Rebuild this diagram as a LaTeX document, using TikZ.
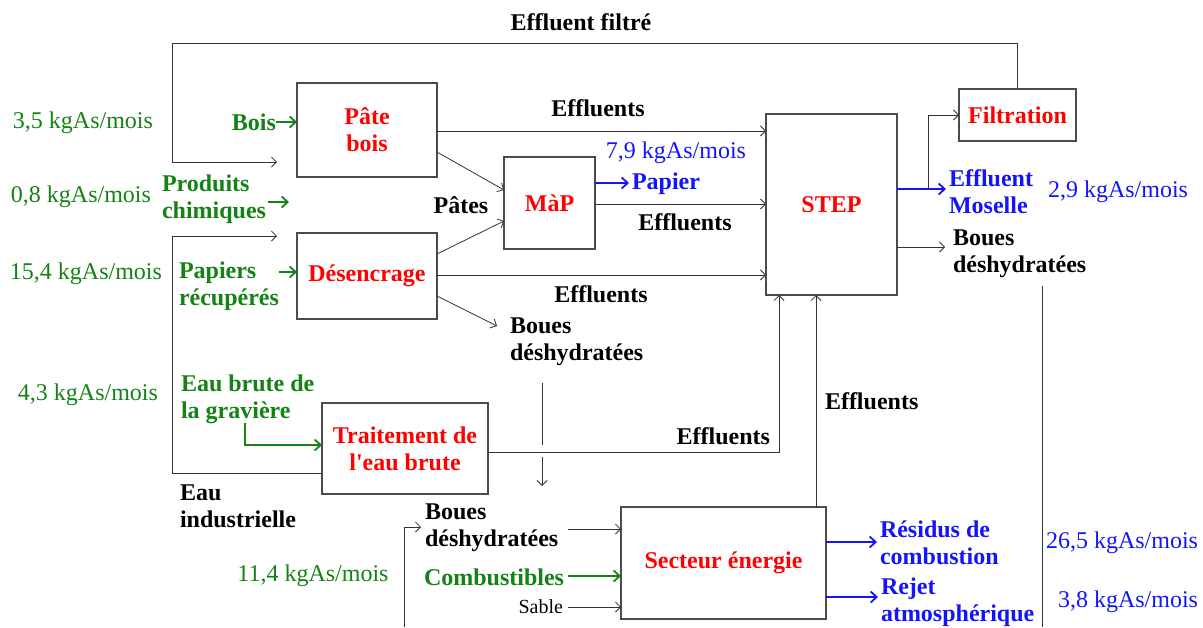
\documentclass[tikz,border=0pt]{standalone}
\usepackage{fontspec}
\setmainfont{Liberation Serif}
\usetikzlibrary{arrows.meta}
\definecolor{grn}{RGB}{20,130,20}
\definecolor{blu}{RGB}{20,20,250}
\definecolor{rd}{RGB}{255,0,0}
\newcommand\bigf{\fontsize{24}{27}\selectfont}
\begin{document}
\begin{tikzpicture}[x=1pt,y=-1pt,
  every node/.style={inner sep=0pt, outer sep=0pt},
  box/.style={draw=black!70, line width=1.2pt, text=rd, font=\bigf\bfseries, align=center},
  ln/.style={draw=black!80, line width=0.8pt},
  ar/.style={ln, -{Straight Barb[length=5pt,width=10pt]}},
  gar/.style={draw=grn, line width=1.8pt, -{Straight Barb[length=6pt,width=11pt]}},
  bar/.style={draw=blu, line width=1.8pt, -{Straight Barb[length=6pt,width=11pt]}},
  lbl/.style={font=\bigf\bfseries, text=black, align=left},
  glbl/.style={font=\bigf\bfseries, text=grn, align=left},
  blbl/.style={font=\bigf\bfseries, text=blu, align=left},
  gamt/.style={font=\bigf, text=grn},
  bamt/.style={font=\bigf, text=blu},
]
\useasboundingbox (0,0) rectangle (1203,627);

% boxes
\node[box, minimum width=140pt, minimum height=94pt] (pate) at (367,130) {Pâte\\bois};
\node[box, minimum width=91pt, minimum height=92pt] (map) at (549.5,203) {MàP};
\node[box, minimum width=131pt, minimum height=181pt] (step) at (831.5,204.5) {STEP};
\node[box, minimum width=117pt, minimum height=52pt] (filt) at (1017.5,115) {Filtration};
\node[box, minimum width=140pt, minimum height=86pt] (desenc) at (367,276) {Désencrage};
\node[box, minimum width=166pt, minimum height=91pt] (trait) at (405,448.5) {Traitement de\\l\textquotesingle eau brute};
\node[box, minimum width=205pt, minimum height=112pt] (sect) at (723.5,563) {Secteur énergie};

% labels
\node[lbl] (lfilt) at (581,22) {Effluent filtré};
\node[lbl] (eff1) at (598,108) {Effluents};
\node[lbl] (eff2) at (685,222) {Effluents};
\node[lbl] (eff3) at (601,294) {Effluents};
\node[lbl, anchor=east] (eff4) at (770,436) {Effluents};
\node[lbl, anchor=west] (eff5) at (825,401) {Effluents};
\node[lbl] (pates) at (461,205) {Pâtes};
\node[bamt] (m79) at (676,153) {7,9 kgAs/mois};
\node[blbl, anchor=west] (papier) at (632,184) {Papier};
\node[blbl, anchor=west] (moselle) at (949,192) {Effluent\\Moselle};
\node[bamt] (m29) at (1118,192) {2,9 kgAs/mois};
\node[lbl, anchor=west] (boues2) at (953,254) {Boues\\déshydratées};
\node[lbl, anchor=west] (boues1) at (510,342) {Boues\\déshydratées};
\node[lbl, anchor=west] (boues3) at (425,528) {Boues\\déshydratées};
\node[glbl, anchor=west] (comb) at (424,577) {Combustibles};
\node[font=\fontsize{20}{24}\selectfont, anchor=east] (sable) at (563,607) {Sable};
\node[gamt] (m114) at (313,576) {11,4 kgAs/mois};
\node[lbl, anchor=west] (eauind) at (180,506) {Eau\\industrielle};
\node[blbl, anchor=west] (resid) at (880,543) {Résidus de\\combustion};
\node[blbl, anchor=west] (rejet) at (881,602) {Rejet\\atmosphérique};
\node[bamt] (m265) at (1122,543) {26,5 kgAs/mois};
\node[bamt] (m38) at (1128,602) {3,8 kgAs/mois};
\node[gamt] (m35) at (83,123) {3,5 kgAs/mois};
\node[gamt] (m08) at (81,197) {0,8 kgAs/mois};
\node[gamt] (m154) at (86,274) {15,4 kgAs/mois};
\node[gamt] (m43) at (88,395) {4,3 kgAs/mois};
\node[glbl, anchor=east] (bois) at (276,122) {Bois};
\node[glbl, anchor=west] (prod) at (162,199) {Produits\\chimiques};
\node[glbl, anchor=west] (papr) at (179,286) {Papiers\\récupérés};
\node[glbl, anchor=west] (eaub) at (181,399) {Eau brute de\\la gravière};

% free coordinates
\coordinate (loopc) at (172,43);
\coordinate (loopend) at (277,162);
\coordinate (pcend) at (289,202);
\coordinate (brtop) at (172,236);
\coordinate (brend) at (277,236);
\coordinate (brbot) at (172,473);
\coordinate (eaucorner) at (245,445);
\coordinate (papar) at (279,272);
\coordinate (b1in) at (497,326);
\coordinate (v0) at (542,383);
\coordinate (v1) at (542,445);
\coordinate (v2) at (542,457);
\coordinate (v3) at (542,486);
\coordinate (b2in) at (945,247);
\coordinate (rv0) at (1042,286);
\coordinate (rv1) at (1042,627);
\coordinate (lv0) at (404,627);
\coordinate (b3out) at (568,529);
\coordinate (combout) at (568,576);
\coordinate (sabout) at (568,607);

% connectors
\draw[ar] (filt.north) |- (loopc) |- (loopend);
\draw[gar] (bois.east) -- (pate.west |- bois.east);
\draw[gar] (prod.east |- pcend) ++(2,0) -- (pcend);
\draw[ar] (trait.west |- brbot) -- (brbot) -- (brtop) -- (brend);
\draw[gar] (eaucorner |- eaub.south) -- (eaucorner) -- (trait.west |- eaucorner);
\draw[gar] (papar) -- (desenc.west |- papar);

\draw[ar] (pate.east |- 0,131) -- (step.west |- 0,131);
\draw[ar] (pate.east |- 0,152) -- (map.west |- 0,190);
\draw[ar] (desenc.east |- 0,254) -- (map.west |- 0,221);
\draw[bar] (map.east |- 0,183) -- ([xshift=-3pt]papier.west |- 0,183);
\draw[ar] (map.east |- 0,204) -- (step.west |- 0,204);
\draw[ar] (desenc.east |- 0,275) -- (step.west |- 0,275);
\draw[ar] (desenc.east |- 0,296) -- (b1in);
\draw[ln] (v0) -- (v1);
\draw[ar] (v2) -- (v3);
\draw[ar] (trait.east |- 0,452) -| (step.south -| 779,0);
\draw[ar] (sect.north -| 816,0) -- (step.south -| 816,0);
\draw[bar] (step.east |- 0,189) -- ([xshift=-3pt]moselle.west |- 0,189);
\draw[ar] (step.east |- 0,189) ++(31,0) |- (filt.west);
\draw[ar] (step.east |- 0,247) -- (b2in);
\draw[ln] (rv0) -- (rv1);
\draw[ar] (lv0) |- ([xshift=-4pt]boues3.west |- 0,527);
\draw[ar] (b3out) -- (sect.west |- b3out);
\draw[gar] (combout) -- (sect.west |- combout);
\draw[ar] (sabout) -- (sect.west |- sabout);
\draw[bar] (sect.east |- 0,542) -- ([xshift=-3pt]resid.west |- 0,542);
\draw[bar] (sect.east |- 0,597) -- ([xshift=-3pt]rejet.west |- 0,597);
\end{tikzpicture}
\end{document}
